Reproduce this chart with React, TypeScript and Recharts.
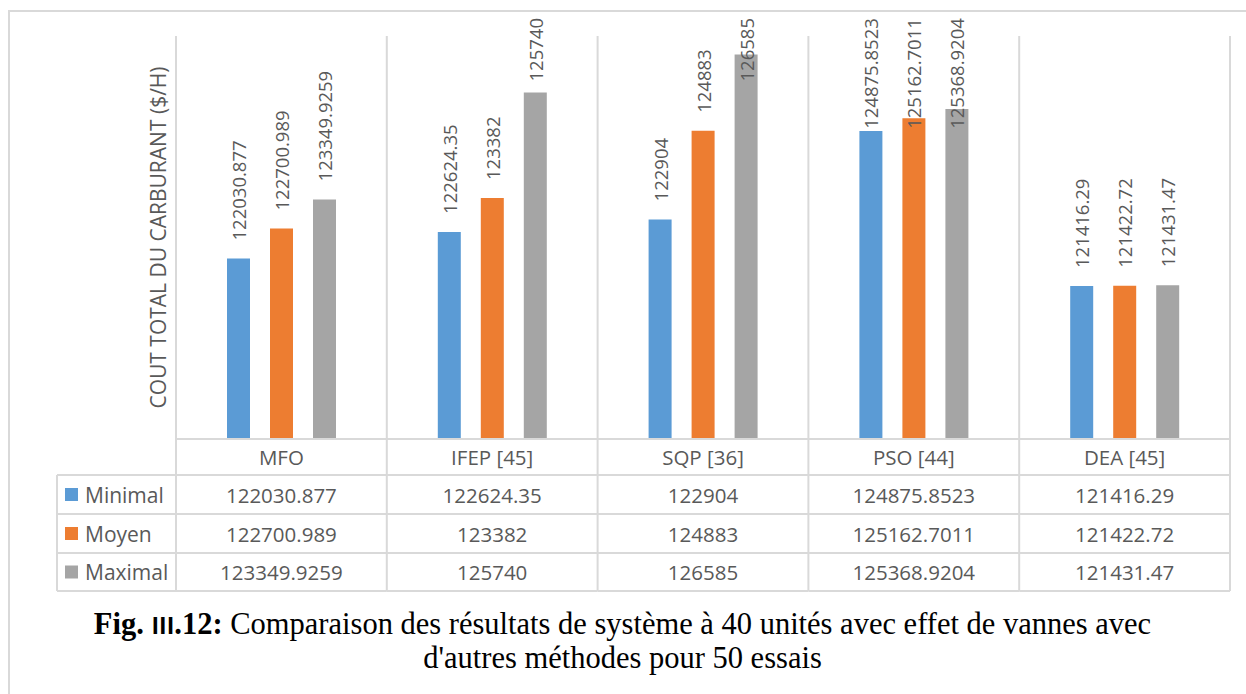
import React from "react";
import { BarChart, Bar, XAxis, YAxis, LabelList } from "recharts";

const categories = ["MFO", "IFEP [45]", "SQP [36]", "PSO [44]", "DEA [45]"];
const seriesNames = ["Minimal", "Moyen", "Maximal"];
const seriesKeys = ["min", "moy", "max"];
const seriesColors = ["#5b9bd5", "#ed7d31", "#a5a5a5"];
const minimalValues = [122030.877, 122624.35, 122904, 124875.8523, 121416.29];
const moyenValues = [122700.989, 123382, 124883, 125162.7011, 121422.72];
const maximalValues = [123349.9259, 125740, 126585, 125368.9204, 121431.47];
const yDomain = [118000, 127000];
const yTitle = "COUT TOTAL DU CARBURANT ($/H)";

const seriesValues = [minimalValues, moyenValues, maximalValues];
const data = categories.map((c, i) => ({
  name: c,
  min: minimalValues[i],
  moy: moyenValues[i],
  max: maximalValues[i],
}));

const W = 1246;
const H = 600;
const PLOT_LEFT = 176;
const PLOT_RIGHT = 1230;
const PLOT_TOP = 36;
const PLOT_BOTTOM = 439;
const BAND = (PLOT_RIGHT - PLOT_LEFT) / categories.length;
const ROW_LINES = [475, 514, 553, 591];
const ROW_CENTERS = [494.5, 533.5, 572];
const HEADER_CENTER = 457;
const LEGEND_LEFT = 57;
const GRID = "#d9d9d9";
const TEXT = "#595959";
const FONT = "'Open Sans', 'Noto Sans', sans-serif";
const TABLE_FS = 20.5;
const LABEL_FS = 18.5;

const TableTick = (props: any) => {
  const { x, index, payload } = props;
  const left = x - BAND / 2;
  const right = x + BAND / 2;
  const last = index === categories.length - 1;
  return (
    <g>
      <line x1={left} x2={left} y1={PLOT_TOP} y2={ROW_LINES[3]} stroke={GRID} strokeWidth={2} />
      {last && (
        <line x1={right} x2={right} y1={PLOT_TOP} y2={ROW_LINES[3]} stroke={GRID} strokeWidth={2} />
      )}
      {ROW_LINES.map((ly, k) => (
        <line key={k} x1={left} x2={right} y1={ly} y2={ly} stroke={GRID} strokeWidth={2} />
      ))}
      <text x={x} y={HEADER_CENTER} textAnchor="middle" dominantBaseline="central" fill={TEXT} fontSize={TABLE_FS} fontFamily={FONT}>
        {payload.value}
      </text>
      {seriesValues.map((vals, k) => (
        <text key={k} x={x} y={ROW_CENTERS[k]} textAnchor="middle" dominantBaseline="central" fill={TEXT} fontSize={TABLE_FS} fontFamily={FONT}>
          {String(vals[index])}
        </text>
      ))}
    </g>
  );
};

const textLen = (s: string, fs: number) => {
  let w = 0;
  for (const ch of s) w += ch === "." ? 0.27 * fs : 0.572 * fs;
  return w;
};

const BarLabel = (props: any) => {
  const { x, y, width, value } = props;
  const s = String(value);
  const cx = x + width / 2;
  const len = textLen(s, LABEL_FS);
  const bottom = Math.max(y - 18, 18 + len);
  return (
    <text
      x={cx}
      y={bottom}
      transform={`rotate(-90 ${cx} ${bottom})`}
      textAnchor="start"
      dominantBaseline="central"
      fill={TEXT}
      fontSize={LABEL_FS}
      fontFamily={FONT}
    >
      {s}
    </text>
  );
};

export default function App() {
  return (
    <div style={{ position: "absolute", left: 0, top: 0, width: W, height: 694, background: "#fff", overflow: "hidden" }}>
      <div style={{ position: "absolute", left: 8, top: 10, width: W - 8, height: 700, borderLeft: `2px solid ${GRID}`, borderTop: `2px solid ${GRID}`, boxSizing: "border-box" }} />
      <div style={{ position: "absolute", left: 0, top: 0 }}>
        <BarChart
          width={W}
          height={H}
          data={data}
          margin={{ top: PLOT_TOP, right: W - PLOT_RIGHT, left: PLOT_LEFT, bottom: 0 }}
          barGap={20}
          barSize={23}
        >
          <XAxis
            dataKey="name"
            height={H - PLOT_BOTTOM}
            interval={0}
            tickLine={false}
            axisLine={{ stroke: GRID, strokeWidth: 2 }}
            tick={<TableTick />}
          />
          <YAxis hide width={0} domain={yDomain} allowDataOverflow />
          {seriesKeys.map((k, i) => (
            <Bar key={k} dataKey={k} name={seriesNames[i]} fill={seriesColors[i]} isAnimationActive={false}>
              <LabelList dataKey={k} content={<BarLabel />} />
            </Bar>
          ))}
        </BarChart>
      </div>
      <svg style={{ position: "absolute", left: 0, top: 0 }} width={W} height={H}>
        <text
          x={158}
          y={(PLOT_TOP + PLOT_BOTTOM) / 2}
          transform={`rotate(-90 158 ${(PLOT_TOP + PLOT_BOTTOM) / 2})`}
          textAnchor="middle"
          dominantBaseline="central"
          fill={TEXT}
          fontSize={21}
          fontFamily={FONT}
        >
          {yTitle}
        </text>
        {seriesNames.map((n, i) => (
          <g key={n}>
            <line x1={LEGEND_LEFT} x2={PLOT_LEFT} y1={ROW_LINES[i]} y2={ROW_LINES[i]} stroke={GRID} strokeWidth={2} />
            <rect x={65} y={ROW_CENTERS[i] - 6.5} width={13} height={13} fill={seriesColors[i]} />
            <text x={85} y={ROW_CENTERS[i]} dominantBaseline="central" fill={TEXT} fontSize={TABLE_FS + 0.5} fontFamily={FONT}>
              {n}
            </text>
          </g>
        ))}
        <line x1={LEGEND_LEFT} x2={PLOT_LEFT} y1={ROW_LINES[3]} y2={ROW_LINES[3]} stroke={GRID} strokeWidth={2} />
        <line x1={LEGEND_LEFT} x2={LEGEND_LEFT} y1={ROW_LINES[0]} y2={ROW_LINES[3]} stroke={GRID} strokeWidth={2} />
      </svg>
      <div
        style={{
          position: "absolute",
          left: 0,
          top: 608,
          width: 1245,
          textAlign: "center",
          fontFamily: "'Liberation Serif', 'Times New Roman', serif",
          fontSize: 30.5,
          lineHeight: "33px",
          color: "#000",
        }}
      >
        <b>Fig. </b>
        <b style={{ fontFamily: FONT, fontSize: 23 }}>III</b>
        <b>.12:</b> Comparaison des résultats de système à 40 unités avec effet de vannes avec
        <br />
        d'autres méthodes pour 50 essais
      </div>
    </div>
  );
}
